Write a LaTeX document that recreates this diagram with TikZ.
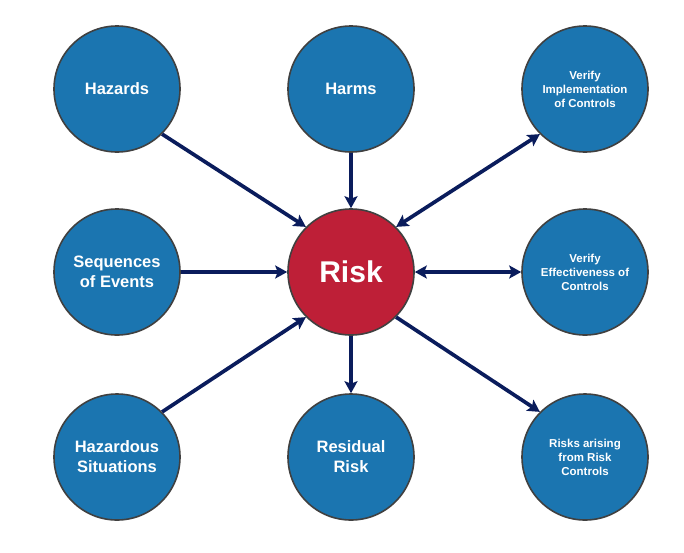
\documentclass[tikz,border=0pt]{standalone}
\usepackage{fontspec}
\setmainfont{Liberation Sans}
\usetikzlibrary{arrows.meta,positioning}
\definecolor{nodeBlue}{HTML}{1B75B0}
\definecolor{nodeRed}{HTML}{BE1F37}
\definecolor{arrowNavy}{HTML}{0A1C5C}
\definecolor{rimGray}{HTML}{404040}
\tikzstyle{circNode} = [circle, minimum size=126pt, inner sep=0pt, text centered, align=center, line width=1.6pt, draw=rimGray, fill=nodeBlue, text=white, font=\bfseries\fontsize{16.5}{20}\selectfont]
\tikzstyle{circNodeS} = [circNode, font=\bfseries\fontsize{11.5}{14}\selectfont]
\tikzstyle{circNodeR} = [circNode, fill=nodeRed, font=\bfseries\fontsize{30}{36}\selectfont]
\tikzstyle{arrowN} = [line width=3.7pt, >={Stealth[length=12pt,width=13pt,inset=2.5pt]}, ->, draw=arrowNavy]
\tikzstyle{arrowNB} = [arrowN, <->]

\begin{document}
\begin{tikzpicture}[node distance=234pt]
        \useasboundingbox (-117pt,89pt) rectangle (567pt,-463pt);
        \node (hazards) [circNode] {Hazards};
        \node (harms) [circNode, right of=hazards] {Harms};
        \node (verImp) [circNodeS, right of=harms] {Verify\\Implementation\\of Controls};
        \node (seq) [circNode, below of=hazards, yshift=51pt] {Sequences\\of Events};
        \node (risk) [circNodeR, right of=seq] {Risk};
        \node (verEff) [circNodeS, right of=risk] {Verify\\Effectiveness of\\Controls};
        \node (hazSit) [circNode, below of=seq, yshift=49pt] {Hazardous\\Situations};
        \node (residual) [circNode, right of=hazSit] {Residual\\Risk};
        \node (riskCtrl) [circNodeS, right of=residual] {Risks arising\\from Risk\\Controls};

        \draw [arrowN] (hazards.south east) -- (risk.north west);
        \draw [arrowN] (harms) -- (risk);
        \draw [arrowNB] (risk.north east) -- (verImp.south west);
        \draw [arrowN] (seq) -- (risk);
        \draw [arrowNB] (risk) -- (verEff);
        \draw [arrowN] (hazSit.north east) -- (risk.south west);
        \draw [arrowN] (risk) -- (residual);
        \draw [arrowN] (risk.south east) -- (riskCtrl.north west);
    \end{tikzpicture}
\end{document}
